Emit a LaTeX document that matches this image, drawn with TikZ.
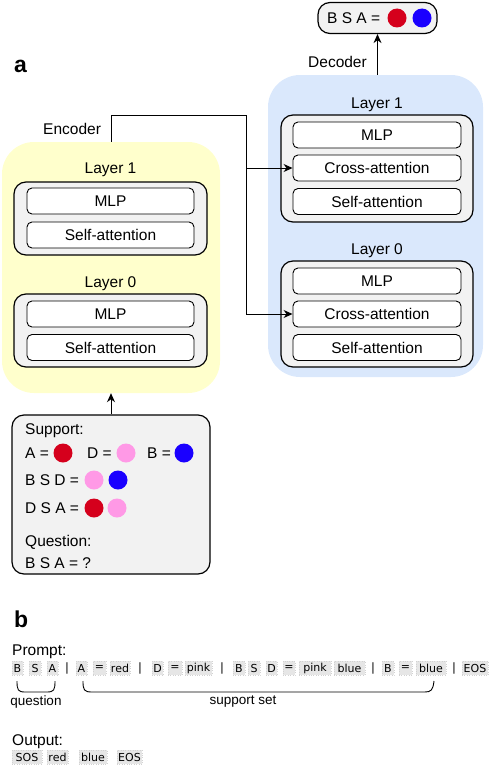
\documentclass[tikz,border=0pt]{standalone}
\usepackage{fontspec}
\setmainfont{Liberation Sans}
\newfontfamily\tokfont{DejaVu Sans}
\usetikzlibrary{arrows.meta,positioning}

\definecolor{encyellow}{HTML}{FFFFCC}
\definecolor{decblue}{HTML}{DAE8FC}
\definecolor{boxgray}{HTML}{F2F2F2}
\definecolor{tokgray}{HTML}{E6E6E6}
\definecolor{dotred}{HTML}{D5001C}
\definecolor{dotpink}{HTML}{FF99E6}
\definecolor{dotblue}{HTML}{1A00FF}

\tikzset{
    region/.style = {rounded corners = 32pt, inner sep = 0},
    layerbox/.style = {draw, line width = 1.2pt, fill = boxgray, rounded corners = 12pt,
        minimum width = 193pt, inner sep = 0},
    blockbox/.style = {draw, line width = 0.9pt, fill = white, rounded corners = 5pt,
        minimum width = 167pt, minimum height = 26pt, inner sep = 0,
        text height = 11pt, text depth = 0pt},
    panel/.style = {draw, line width = 1.2pt, fill = boxgray, rounded corners = 12pt, inner sep = 0},
    txt/.style = {inner sep = 0, anchor = west, text height = 11pt, text depth = 0pt},
    dot/.style = {circle, inner sep = 0, minimum size = 19pt},
    tok/.style = {fill = tokgray, draw = gray!35, dotted, minimum height = 14pt, inner sep = 0,
        font = \tokfont\fontsize{11}{13}\selectfont},
    bar/.style = {inner sep = 0, font = \tokfont\fontsize{11.5}{13}\selectfont},
    arr/.style = {-{Stealth[length = 9pt, width = 8pt]}, line width = 0.9pt},
    brace/.style = {line width = 0.9pt},
}

\begin{document}
\begin{tikzpicture}[x = 1pt, y = -1pt, font = \fontsize{15.5}{18}\selectfont]
    \useasboundingbox (0, 0) rectangle (492, 768);

    % panel labels
    \node [anchor = base west, inner sep = 0, font = \fontsize{23}{26}\selectfont\bfseries] (laba) at (14, 72) {a};
    \node [anchor = base west, inner sep = 0, font = \fontsize{23}{26}\selectfont\bfseries] (labb) at (14, 627) {b};

    % encoder
    \node [region, fill = encyellow, minimum width = 218pt, minimum height = 251pt] (enc) at (111, 267.5) {};
    \node [txt, anchor = center] (e1lab) at (110.5, 168) {Layer 1};
    \node [layerbox, minimum height = 73pt] (e1) at (110.5, 218.5) {};
    \node [blockbox] (e1mlp) at (110.5, 201) {MLP};
    \node [blockbox] (e1self) at (110.5, 235) {Self-attention};
    \node [txt, anchor = center] (e0lab) at (110.5, 282) {Layer 0};
    \node [layerbox, minimum height = 73pt] (e0) at (110.5, 330.5) {};
    \node [blockbox] (e0mlp) at (110.5, 314) {MLP};
    \node [blockbox] (e0self) at (110.5, 347.5) {Self-attention};
    \node [txt] (enclab) at (43, 129) {Encoder};

    % decoder
    \node [region, fill = decblue, minimum width = 215pt, minimum height = 302pt] (dec) at (375.5, 226) {};
    \node [txt, anchor = center] (d1lab) at (377, 103) {Layer 1};
    \node [layerbox, minimum width = 192pt, minimum height = 107pt] (d1) at (377, 168.5) {};
    \node [blockbox, minimum width = 168pt] (d1mlp) at (377, 135) {MLP};
    \node [blockbox, minimum width = 168pt] (d1cross) at (377, 168) {Cross-attention};
    \node [blockbox, minimum width = 168pt] (d1self) at (377, 201.5) {Self-attention};
    \node [txt, anchor = center] (d0lab) at (377, 249) {Layer 0};
    \node [layerbox, minimum width = 192pt, minimum height = 106pt] (d0) at (377, 314) {};
    \node [blockbox, minimum width = 168pt] (d0mlp) at (377, 281) {MLP};
    \node [blockbox, minimum width = 168pt] (d0cross) at (377, 314) {Cross-attention};
    \node [blockbox, minimum width = 168pt] (d0self) at (377, 347.5) {Self-attention};
    \node [txt] (declab) at (308, 62) {Decoder};

    % output of the decoder
    \node [panel, minimum width = 119pt, minimum height = 31pt] (out) at (377.5, 18) {};
    \node [txt] (outtxt) at (327, 18) {B S A =};
    \node [dot, fill = dotred] (outred) at (397, 18) {};
    \node [dot, fill = dotblue] (outblue) at (422, 18) {};

    % support and question
    \node [panel, minimum width = 198pt, minimum height = 159pt] (sup) at (111, 494.5) {};
    \node [txt] (suplab) at (25, 429) {Support:};
    \node [txt] (supA) at (25, 453) {A =};
    \node [dot, fill = dotred] (dotA) at (63, 453) {};
    \node [txt] (supD) at (87, 453) {D =};
    \node [dot, fill = dotpink] (dotD) at (126, 453) {};
    \node [txt] (supB) at (147, 453) {B =};
    \node [dot, fill = dotblue] (dotB) at (184, 453) {};
    \node [txt] (supBSD) at (25, 480) {B S D =};
    \node [dot, fill = dotpink] (dotBSDa) at (94, 480) {};
    \node [dot, fill = dotblue] (dotBSDb) at (118, 480) {};
    \node [txt] (supDSA) at (25, 508) {D S A =};
    \node [dot, fill = dotred] (dotDSAa) at (94, 508) {};
    \node [dot, fill = dotpink] (dotDSAb) at (117, 508) {};
    \node [txt] (qlab) at (25, 541) {Question:};
    \node [txt] (qtxt) at (25, 563) {B S A = ?};

    % connectors
    \coordinate (ejoin) at (246, 115);
    \draw [arr] (enc.north) |- (ejoin) |- (d0cross.west);
    \draw [arr] (ejoin |- d1cross.west) -- (d1cross.west);
    \draw [arr] (sup.north) -- (enc.south);
    \draw [arr] (dec.north -| out.south) -- (out.south);

    % prompt tokens
    \node [txt] (promptlab) at (12, 650) {Prompt:};
    \foreach \n/\x/\w/\t in {p1/17.5/11/B, p2/35/12/S, p3/52.5/11/A, p4/81.5/11/A, p5/99.5/13/=,
        p6/120/20/red, p7/157.5/11/D, p8/175/14/=, p9/198.5/27/pink, p10/239/12/B, p11/254/12/S,
        p12/271.5/11/D, p13/289/12/=, p14/315/32/pink, p15/349.5/31/blue, p16/388/12/B,
        p17/405.5/13/=, p18/431/30/blue, p19/475/26/EOS}
        \node [tok, minimum width = \w pt] (\n) at (\x, 668) {\t};
    \foreach \n/\x in {b1/67, b2/140, b3/222, b4/373, b5/454}
        \node [bar] (\n) at (\x, 668) {|};

    % braces
    \draw [brace] (17, 681) .. controls (17, 690) and (18, 692) .. (25, 692) -- (47, 692)
        .. controls (54, 692) and (55, 690) .. (55, 681);
    \draw [brace] (83, 681) .. controls (83, 690) and (84, 692) .. (92, 692) -- (425, 692)
        .. controls (431, 692) and (433, 690) .. (434, 681);
    \node [font = \fontsize{13.5}{16}\selectfont] (questlab) at (36, 702) {question};
    \node [font = \fontsize{13.5}{16}\selectfont] (setlab) at (243, 702) {support set};

    % output tokens
    \node [txt] (outputlab) at (12, 740) {Output:};
    \foreach \n/\x/\w/\t in {o1/27/30/SOS, o2/57.5/21/red, o3/93/28/blue, o4/129.5/25/EOS}
        \node [tok, minimum width = \w pt] (\n) at (\x, 757) {\t};
\end{tikzpicture}
\end{document}
